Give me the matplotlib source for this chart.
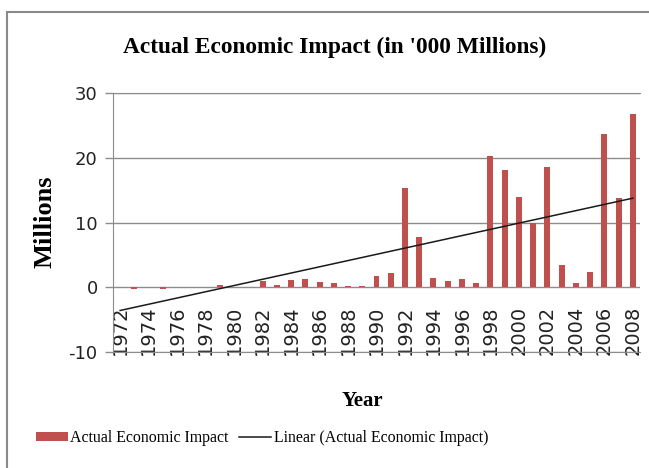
import numpy as np
import matplotlib
matplotlib.use('Agg')
import matplotlib.pyplot as plt
from matplotlib.patches import Rectangle

plt.rcParams['axes.unicode_minus'] = False

# 数据
years = list(range(1972, 2009))
impact = [0, -0.2, 0, -0.2, 0, 0, 0, 0.3, 0, 0,
          0.95, 0.4, 1.05, 1.25, 0.75, 0.6, 0.2, 0.2, 1.8, 2.2,
          15.4, 7.75, 1.45, 0.95, 1.25, 0.6, 20.3, 18.1, 13.95, 10.0,
          18.6, 3.45, 0.6, 2.3, 23.6, 13.85, 26.7]
tick_labels = [str(y) if (y - 1972) % 2 == 0 else '' for y in years]
y_ticks = [-10, 0, 10, 20, 30]

BAR_COLOR = '#C0504D'
GRID_COLOR = '#8C8C8C'
SERIF = 'Liberation Serif'

W, H = 649, 468
fig = plt.figure(figsize=(W / 100, H / 100), dpi=100)
fig.patch.set_facecolor('white')

# 图表外框
fig.add_artist(Rectangle((7 / W, -0.1), 1.2, 1.1 - 12 / H,
                         transform=fig.transFigure, fill=False,
                         edgecolor='#8A8A8A', linewidth=1.5))

ax = fig.add_axes([113 / W, 1 - 352 / H, (640 - 113) / W, (352 - 93) / H])

x = np.arange(len(years))
bars = ax.bar(x, impact, width=0.42, color=BAR_COLOR, zorder=3,
              label='Actual Economic Impact')

# 线性趋势线
coef = np.polyfit(x, impact, 1)
trend, = ax.plot(x, np.polyval(coef, x), color='#1a1a1a', linewidth=1.1,
                 zorder=4, label='Linear (Actual Economic Impact)')

ax.set_xlim(-0.5, len(years) - 0.5)
ax.set_ylim(-10, 30)
ax.set_yticks(y_ticks)
ax.yaxis.grid(True, color=GRID_COLOR, linewidth=1.0, zorder=0)
ax.set_axisbelow(True)

for side in ['top', 'bottom', 'left']:
    ax.spines[side].set_color(GRID_COLOR)
ax.spines['right'].set_visible(False)

ax.tick_params(axis='y', direction='out', length=6, width=1, color=GRID_COLOR,
               pad=5, labelsize=13, labelcolor='#222222')
ax.set_xticks(x)
ax.set_xticklabels(tick_labels, rotation=90, fontsize=14, color='#222222')
ax.tick_params(axis='x', length=0, pad=2)
plt.setp(ax.get_xticklabels(), va='bottom')

fig.text(335 / W, 1 - 47 / H, "Actual Economic Impact (in '000 Millions)",
         ha='center', va='center', fontsize=16.8, fontweight='bold', family=SERIF)
fig.text(45 / W, 1 - 222 / H, 'Millions', rotation=90, ha='center', va='center',
         fontsize=19, fontweight='bold', family=SERIF)
fig.text(362 / W, 1 - 401 / H, 'Year', ha='center', va='center',
         fontsize=15, fontweight='bold', family=SERIF)

fig.legend(handles=[bars, trend], loc='center', ncol=2,
           bbox_to_anchor=(262 / W, 1 - 438 / H), frameon=False,
           prop={'family': SERIF, 'size': 11.4}, handlelength=2.0,
           handleheight=0.55, handletextpad=0.15, columnspacing=0.7)

fig.savefig('out.png', dpi=100)
